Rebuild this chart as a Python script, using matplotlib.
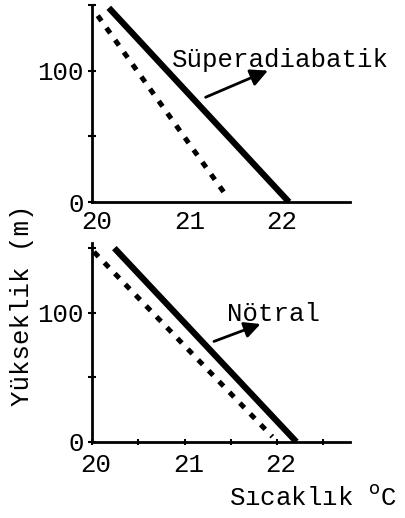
import matplotlib
matplotlib.use("Agg")
import matplotlib.pyplot as plt
from matplotlib.transforms import ScaledTranslation

plt.rcParams["font.family"] = ["Liberation Mono", "DejaVu Sans Mono"]

# values
top_solid_x = [20.18, 22.13]
top_solid_y = [148, 0]
top_dot_x = [20.06, 21.45]
top_dot_y = [142, 5]

bot_solid_x = [20.24, 22.21]
bot_solid_y = [150, 0]
bot_dot_x = [20.02, 21.95]
bot_dot_y = [147, 4]

xticks_top = [20, 21, 22]
xticks_bot = [20, 20.5, 21, 21.5, 22, 22.5]
xtick_labels_bot = ["20", "", "21", "", "22", ""]
yticks = [0, 50, 100, 150]
ytick_labels = ["0", "", "100", ""]

top_label = "Süperadiabatik"
bot_label = "Nötral"

FS = 18.5


def style_axes(ax, ymax):
    ax.set_xlim(20, 22.79)
    ax.set_ylim(0, ymax)
    for s in ["top", "right"]:
        ax.spines[s].set_visible(False)
    ax.spines["left"].set_linewidth(2)
    ax.spines["bottom"].set_linewidth(2)
    ax.set_yticks(yticks)
    ax.set_yticklabels(ytick_labels)
    ax.tick_params(direction="inout", length=6, width=1.5, labelsize=FS, pad=4)
    ax.tick_params(axis="y", pad=3)


def draw_panel(ax, sx, sy, dx, dy, ymax):
    ax.plot(sx, sy, color="black", lw=4.5, solid_capstyle="butt")
    ax.plot(dx, dy, color="black", lw=3.6, linestyle=(0, (1.3, 1.7)), dash_capstyle="butt")
    style_axes(ax, ymax)


def nudge_xlabels(fig, ax, dx_px):
    offset = ScaledTranslation(dx_px / fig.dpi, 0, fig.dpi_scale_trans)
    for lab in ax.get_xticklabels():
        lab.set_transform(lab.get_transform() + offset)


def main():
    fig = plt.figure(figsize=(4.06, 5.18), dpi=100)
    ax1 = fig.add_axes([0.227, 0.610, 0.635, 0.380])
    ax2 = fig.add_axes([0.227, 0.147, 0.635, 0.384])

    draw_panel(ax1, top_solid_x, top_solid_y, top_dot_x, top_dot_y, 150)
    ax1.set_xticks(xticks_top)
    ax1.set_xticklabels([str(v) for v in xticks_top])
    ax1.tick_params(axis="x", length=0, pad=6)
    nudge_xlabels(fig, ax1, 5)
    ax1.text(20.86, 108, top_label, fontsize=FS, va="center", ha="left")
    ax1.annotate("", xy=(21.93, 101), xytext=(21.2, 79),
                 arrowprops=dict(arrowstyle="-|>", color="black", lw=2, mutation_scale=26))

    draw_panel(ax2, bot_solid_x, bot_solid_y, bot_dot_x, bot_dot_y, 154)
    ax2.set_xticks(xticks_bot)
    ax2.set_xticklabels(xtick_labels_bot)
    ax2.tick_params(axis="x", length=4, pad=6)
    nudge_xlabels(fig, ax2, 4)
    ax2.text(21.46, 99, bot_label, fontsize=FS, va="center", ha="left")
    ax2.annotate("", xy=(21.85, 92), xytext=(21.29, 77),
                 arrowprops=dict(arrowstyle="-|>", color="black", lw=2, mutation_scale=24))

    fig.text(0.055, 0.41, "Yükseklik (m)", rotation=90, fontsize=FS, ha="center", va="center")
    fig.text(0.565, 0.04, "Sıcaklık $^{\\mathrm{o}}$C", fontsize=FS, ha="left", va="center")

    fig.savefig("out.png", dpi=100)
    plt.close(fig)


if __name__ == "__main__":
    main()
